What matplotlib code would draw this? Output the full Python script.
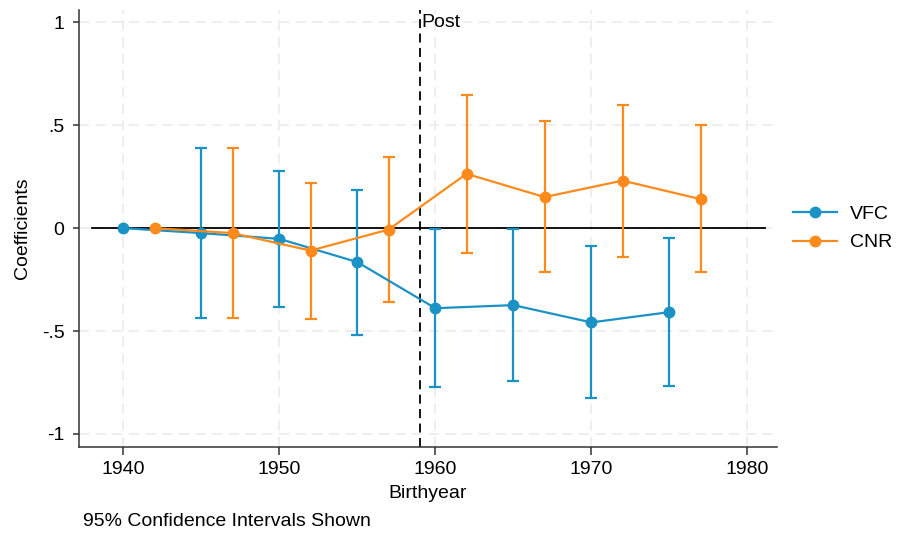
import matplotlib
matplotlib.use("Agg")
import matplotlib.pyplot as plt
from matplotlib.lines import Line2D

plt.rcParams['font.family'] = ['Liberation Sans', 'DejaVu Sans']

# Event-study coefficients by birth year
vfc_year = [1940, 1945, 1950, 1955, 1960, 1965, 1970, 1975]
vfc_coef = [0.0, -0.024, -0.052, -0.165, -0.389, -0.374, -0.458, -0.408]
vfc_lo = [0.0, -0.437, -0.382, -0.517, -0.772, -0.745, -0.827, -0.767]
vfc_hi = [0.0, 0.391, 0.280, 0.187, -0.002, -0.002, -0.089, -0.047]

cnr_year = [1942, 1947, 1952, 1957, 1962, 1967, 1972, 1977]
cnr_coef = [0.0, -0.024, -0.109, -0.007, 0.264, 0.151, 0.231, 0.141]
cnr_lo = [0.0, -0.439, -0.440, -0.358, -0.121, -0.215, -0.138, -0.215]
cnr_hi = [0.0, 0.388, 0.221, 0.346, 0.647, 0.521, 0.600, 0.499]

x_ticks = [1940, 1950, 1960, 1970, 1980]
y_ticks = [-1, -0.5, 0, 0.5, 1]
y_labels = ["-1", "-.5", "0", ".5", "1"]
policy_year = 1959

blue = "#1a92c6"
orange = "#ff8a1c"
FS = 14

fig = plt.figure(figsize=(8.97, 5.36), dpi=100)
ax = fig.add_axes([0.0881, 0.1666, 0.7781, 0.8147])

ax.set_xlim(1937.16, 1981.9)
ax.set_ylim(-1.062, 1.06)

# light dashed grid
for xt in x_ticks:
    ax.axvline(xt, color="#ebebeb", lw=1.2, ls=(0, (6, 4)), zorder=0)
for yt in y_ticks:
    ax.axhline(yt, color="#ebebeb", lw=1.2, ls=(0, (6, 4)), zorder=0)

# reference lines
ax.plot([1938, 1981.1], [0, 0], color="black", lw=1.3, zorder=2)
ax.axvline(policy_year, color="black", lw=1.3, ls=(0, (5, 3)), zorder=2)
ax.text(policy_year + 0.1, 1.0, "Post", fontsize=FS, va="center", ha="left")

def series(xs, coef, lo, hi, color, label):
    err = [[c - l for c, l in zip(coef, lo)], [h - c for c, h in zip(coef, hi)]]
    ax.errorbar(xs[1:], coef[1:], yerr=[err[0][1:], err[1][1:]], fmt="none",
                ecolor=color, elinewidth=1.6, capsize=4, capthick=1.6, zorder=3)
    ax.plot(xs, coef, color=color, lw=1.6, marker="o", ms=7.5,
            mfc=color, mec=color, zorder=4, label=label)

series(vfc_year, vfc_coef, vfc_lo, vfc_hi, blue, "VFC")
series(cnr_year, cnr_coef, cnr_lo, cnr_hi, orange, "CNR")

for side in ["top", "right"]:
    ax.spines[side].set_visible(False)
for side in ["left", "bottom"]:
    ax.spines[side].set_color("#333333")
    ax.spines[side].set_linewidth(1.1)

ax.set_xticks(x_ticks)
ax.set_xticklabels([str(t) for t in x_ticks])
ax.set_yticks(y_ticks)
ax.set_yticklabels(y_labels)
ax.tick_params(axis="both", labelsize=FS, width=1.1,
               color="#333333", direction="out")
ax.tick_params(axis="y", length=4.5, pad=6)
ax.tick_params(axis="x", length=5.5, pad=5)

ax.set_xlabel("Birthyear", fontsize=FS, labelpad=5)
ax.set_ylabel("Coefficients", fontsize=FS, labelpad=8)

fig.text(83 / 897, 1 - 522 / 536, "95% Confidence Intervals Shown",
         fontsize=FS, ha="left", va="center")

handles = [Line2D([0], [0], color=blue, lw=1.6, marker="o", ms=7.5),
           Line2D([0], [0], color=orange, lw=1.6, marker="o", ms=7.5)]
fig.legend(handles, ["VFC", "CNR"], loc="center left",
           bbox_to_anchor=(793 / 897, 1 - 228.5 / 536), frameon=False,
           fontsize=FS, handlelength=2.27, handletextpad=0.67,
           labelspacing=0.55, borderpad=0, borderaxespad=0)

fig.savefig("out.png", dpi=100)
